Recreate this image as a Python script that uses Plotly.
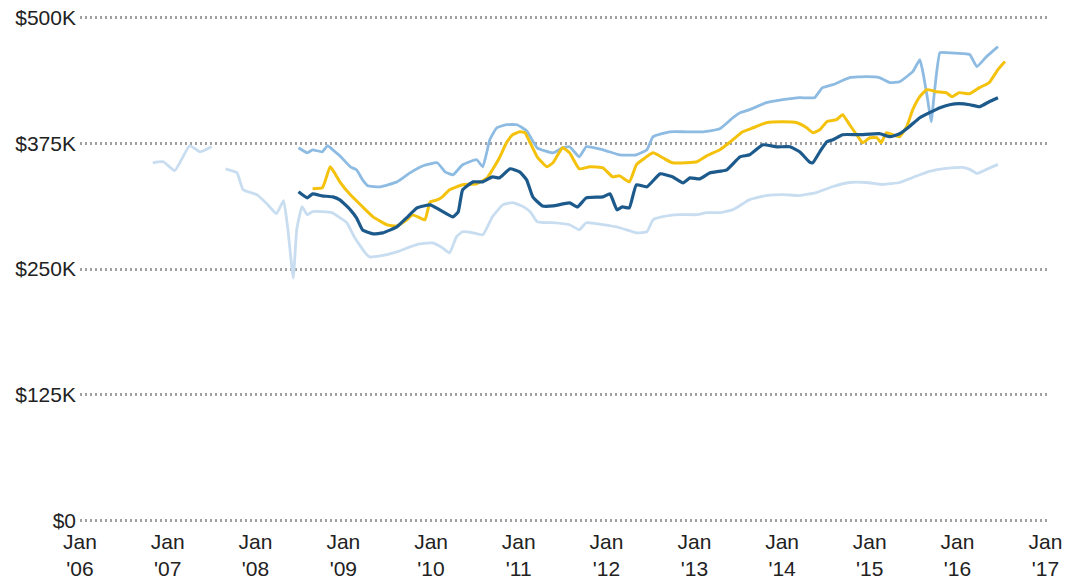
import plotly.graph_objects as go
import pandas as pd

# Dates expressed as decimal years, values in $K
dark_t = [2008.49, 2008.59, 2008.65, 2008.76, 2008.88, 2008.96, 2009.08, 2009.15, 2009.22, 2009.34,
          2009.45, 2009.61, 2009.72, 2009.84, 2009.99, 2010.10, 2010.25, 2010.31, 2010.36, 2010.48,
          2010.59, 2010.70, 2010.78, 2010.90, 2011.01, 2011.09, 2011.16, 2011.27, 2011.39, 2011.58,
          2011.67, 2011.77, 2011.96, 2012.04, 2012.12, 2012.18, 2012.26, 2012.34, 2012.46, 2012.61,
          2012.75, 2012.87, 2012.95, 2013.06, 2013.18, 2013.37, 2013.52, 2013.63, 2013.78, 2013.94,
          2014.09, 2014.20, 2014.31, 2014.35, 2014.43, 2014.51, 2014.58, 2014.69, 2014.88, 2015.11,
          2015.23, 2015.34, 2015.45, 2015.57, 2015.68, 2015.80, 2015.91, 2016.02, 2016.14, 2016.25,
          2016.36, 2016.46]
dark_v = [326.7, 320.7, 324.7, 322.7, 321.7, 318.7, 308.8, 300.8, 288.8, 284.9,
          285.9, 291.8, 300.8, 310.8, 313.7, 308.8, 301.8, 306.8, 328.7, 336.6,
          336.6, 341.6, 340.6, 349.6, 346.6, 338.6, 321.7, 312.7, 312.7, 315.7,
          311.7, 320.7, 321.7, 324.7, 308.8, 311.7, 310.8, 333.7, 331.7, 344.6,
          341.6, 335.7, 340.6, 339.6, 345.6, 348.6, 361.5, 363.5, 373.5, 371.5,
          371.5, 366.5, 356.6, 355.6, 366.5, 376.5, 378.5, 383.5, 383.5, 384.5,
          381.5, 384.5, 391.4, 400.4, 405.4, 410.4, 413.3, 414.3, 413.3, 411.3,
          416.3, 420.3]

yellow_t = [2008.65, 2008.76, 2008.79, 2008.85, 2008.90, 2008.96, 2009.08, 2009.22, 2009.34, 2009.50,
            2009.61, 2009.72, 2009.79, 2009.85, 2009.93, 2009.99, 2010.07, 2010.13, 2010.21, 2010.36,
            2010.52, 2010.64, 2010.70, 2010.78, 2010.86, 2010.93, 2011.01, 2011.07, 2011.13, 2011.21,
            2011.32, 2011.39, 2011.50, 2011.58, 2011.69, 2011.81, 2011.96, 2012.07, 2012.15, 2012.26,
            2012.34, 2012.41, 2012.53, 2012.64, 2012.75, 2012.91, 2013.03, 2013.14, 2013.29, 2013.44,
            2013.55, 2013.67, 2013.82, 2014.01, 2014.17, 2014.28, 2014.35, 2014.43, 2014.51, 2014.62,
            2014.69, 2014.77, 2014.85, 2014.92, 2015.00, 2015.08, 2015.13, 2015.19, 2015.26, 2015.34,
            2015.42, 2015.49, 2015.57, 2015.65, 2015.76, 2015.87, 2015.94, 2016.02, 2016.14, 2016.25,
            2016.36, 2016.46, 2016.54]
yellow_v = [329.7, 330.7, 336.6, 351.6, 345.6, 336.6, 323.7, 311.7, 301.8, 293.8,
            292.8, 298.8, 303.8, 301.8, 298.8, 316.7, 318.7, 321.7, 328.7, 333.7,
            334.7, 340.6, 348.6, 360.6, 375.5, 383.5, 386.4, 385.5, 375.5, 361.5,
            351.6, 355.6, 370.5, 365.5, 349.6, 351.6, 350.6, 341.6, 342.6, 336.6,
            353.6, 358.6, 365.5, 360.6, 355.6, 355.6, 356.6, 362.5, 368.5, 378.5,
            386.4, 390.4, 395.4, 396.4, 395.4, 390.4, 385.5, 388.4, 396.4, 398.4,
            403.4, 393.4, 383.5, 375.5, 380.5, 380.5, 375.5, 385.5, 383.5, 381.5,
            391.4, 408.4, 421.3, 428.3, 426.3, 425.3, 421.3, 425.3, 424.3, 430.3,
            435.3, 448.2, 456.2]

mid_t = [2008.49, 2008.59, 2008.65, 2008.76, 2008.82, 2008.88, 2008.96, 2009.08, 2009.15, 2009.22,
         2009.28, 2009.42, 2009.61, 2009.76, 2009.91, 2010.07, 2010.16, 2010.25, 2010.36, 2010.52,
         2010.59, 2010.67, 2010.75, 2010.86, 2010.98, 2011.09, 2011.21, 2011.39, 2011.50, 2011.58,
         2011.69, 2011.77, 2011.96, 2012.15, 2012.34, 2012.46, 2012.53, 2012.72, 2012.91, 2013.10,
         2013.29, 2013.44, 2013.52, 2013.63, 2013.82, 2014.01, 2014.20, 2014.37, 2014.46, 2014.58,
         2014.77, 2014.96, 2015.11, 2015.23, 2015.34, 2015.49, 2015.57, 2015.60, 2015.66, 2015.70,
         2015.74, 2015.80, 2015.87, 2016.06, 2016.14, 2016.22, 2016.33, 2016.46]
mid_v = [370.5, 365.5, 368.5, 366.5, 372.5, 368.5, 362.5, 351.6, 348.6, 338.6,
         332.7, 331.7, 336.6, 345.6, 352.6, 355.6, 346.6, 343.6, 353.6, 358.6,
         351.6, 378.5, 390.4, 393.4, 393.4, 387.4, 370.5, 365.5, 370.5, 371.5,
         361.5, 371.5, 368.5, 363.5, 363.5, 368.5, 381.5, 386.4, 386.4, 386.4,
         389.4, 400.4, 405.4, 408.4, 415.3, 418.3, 420.3, 420.3, 430.3, 433.3,
         440.2, 441.2, 440.2, 435.3, 436.2, 446.2, 458.2, 448.2, 418.3, 396.4,
         428.3, 465.1, 465.1, 464.1, 463.1, 451.2, 461.1, 471.1]

light_t = [2006.83, 2006.95, 2007.08, 2007.25, 2007.37, 2007.50, None,
           2007.66, 2007.79, 2007.86, 2008.02, 2008.13, 2008.24, 2008.32, 2008.37, 2008.43, 2008.47,
           2008.53, 2008.59, 2008.65, 2008.76, 2008.87, 2008.96, 2009.04, 2009.13, 2009.25, 2009.30,
           2009.42, 2009.61, 2009.76, 2009.87, 2010.02, 2010.13, 2010.21, 2010.29, 2010.36, 2010.48,
           2010.59, 2010.70, 2010.82, 2010.93, 2011.05, 2011.13, 2011.21, 2011.39, 2011.58, 2011.69,
           2011.77, 2011.96, 2012.15, 2012.34, 2012.46, 2012.53, 2012.64, 2012.83, 2013.03, 2013.14,
           2013.29, 2013.44, 2013.63, 2013.82, 2014.01, 2014.20, 2014.39, 2014.58, 2014.77, 2014.96,
           2015.15, 2015.34, 2015.49, 2015.68, 2015.87, 2016.06, 2016.14, 2016.22, 2016.33, 2016.46]
light_v = [355.6, 356.6, 347.8, 372.5, 366.5, 371.5, None,
           349.6, 345.6, 328.7, 323.7, 314.9, 305.0, 318.0, 289.0, 241.0, 289.0,
           312.0, 304.0, 307.0, 307.0, 306.0, 301.0, 296.0, 281.0, 266.0, 262.0,
           263.0, 267.0, 272.0, 275.0, 276.0, 271.0, 266.0, 282.0, 287.0, 286.0,
           284.0, 302.0, 314.0, 316.0, 312.0, 307.0, 297.0, 296.0, 294.0, 289.0,
           296.0, 294.0, 291.0, 286.0, 287.0, 299.0, 302.0, 304.0, 304.0, 306.0,
           306.0, 309.0, 319.0, 323.0, 324.0, 323.0, 326.0, 332.0, 336.0, 336.0,
           334.0, 336.0, 341.0, 347.0, 350.0, 351.0, 349.0, 345.0, 349.0, 354.0]

y_ticks = [0, 125, 250, 375, 500]
y_labels = ["$0", "$125K", "$250K", "$375K", "$500K"]
x_years = list(range(2006, 2018))
x_labels = ["Jan<br>'%02d" % (y % 100) for y in x_years]


def to_dates(ts):
    out = []
    for t in ts:
        if t is None:
            out.append(None)
            continue
        yr = int(t)
        start = pd.Timestamp(year=yr, month=1, day=1)
        end = pd.Timestamp(year=yr + 1, month=1, day=1)
        out.append(start + (end - start) * (t - yr))
    return out


def to_dollars(vs):
    return [None if v is None else v * 1000 for v in vs]


fig = go.Figure()
series = [
    (light_t, light_v, "#c8ddf0", 2.8),
    (mid_t, mid_v, "#8dbbe2", 2.8),
    (yellow_t, yellow_v, "#f4c20d", 3.0),
    (dark_t, dark_v, "#1d5a8c", 3.2),
]
for ts, vs, col, w in series:
    fig.add_trace(go.Scatter(
        x=to_dates(ts), y=to_dollars(vs), mode="lines",
        line=dict(color=col, width=w, shape="spline", smoothing=0.4),
        connectgaps=False, hoverinfo="skip",
    ))

fig.update_layout(
    width=1080, height=584,
    margin=dict(l=80, r=30, t=16, b=62),
    paper_bgcolor="white", plot_bgcolor="white",
    showlegend=False,
    font=dict(family="Liberation Sans, Arial, sans-serif", size=21, color="#222"),
)
fig.update_xaxes(
    range=[pd.Timestamp("2006-01-01"), pd.Timestamp("2017-01-20")],
    tickvals=[pd.Timestamp(year=y, month=1, day=1) for y in x_years],
    ticktext=x_labels,
    showgrid=False, zeroline=False, showline=False, ticks="",
    ticklabelstandoff=5, automargin=False,
    tickfont=dict(size=21, color="#222"),
)
fig.update_yaxes(
    range=[-1500, 501500],
    tickvals=[v * 1000 for v in y_ticks],
    ticktext=y_labels,
    showgrid=True, gridcolor="#a0a0a0", gridwidth=2.5, griddash="2px,3px",
    zeroline=False, showline=False, ticks="",
    ticklabelstandoff=3, automargin=False,
    tickfont=dict(size=21, color="#222"),
)

fig.write_html("out.html", config={"displayModeBar": False},
               post_script="document.body.style.margin='0';")
